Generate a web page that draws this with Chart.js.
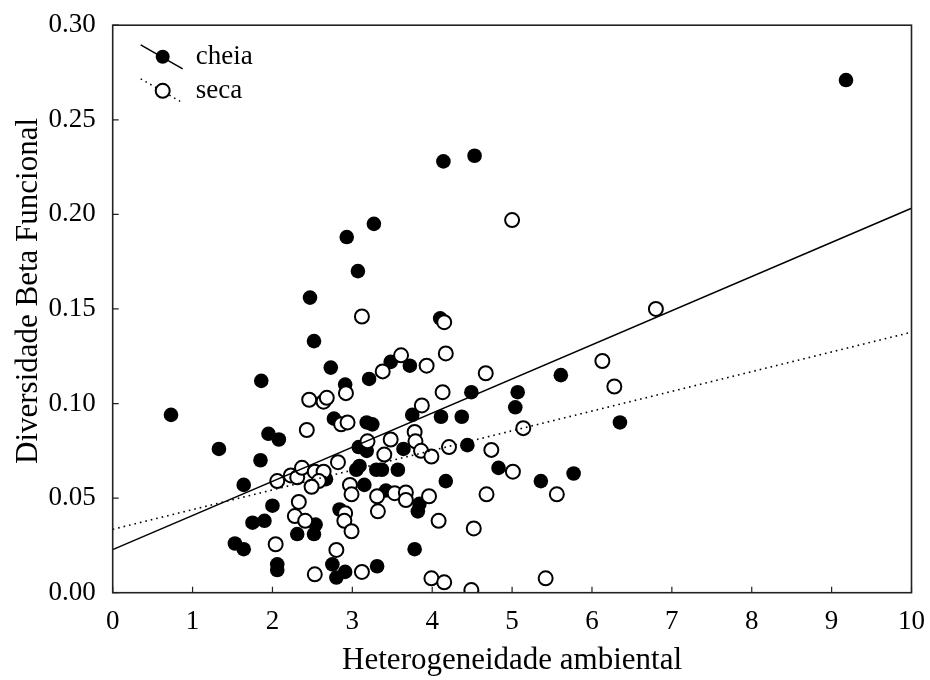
<!DOCTYPE html>
<html>
<head>
<meta charset="utf-8">
<script src="https://cdn.jsdelivr.net/npm/chart.js@4"></script>
<style>
  html, body { margin: 0; padding: 0; background: #fff; }
  #wrap { width: 930px; height: 680px; }
</style>
</head>
<body>
<div id="wrap"><canvas id="chart" width="930" height="680"></canvas></div>
<script>
// cheia (flood season) points
const cheiaX = [0.73, 1.33, 1.64, 1.86, 1.85, 1.95, 2.08, 2.00, 1.75, 1.90, 1.53, 1.64, 2.06, 2.06,
    2.52, 2.47, 2.73, 2.91, 2.77, 2.67, 2.54, 2.31, 2.52, 2.84, 2.75, 2.80, 2.91, 3.27, 2.93, 3.07,
    4.10, 3.48, 3.72, 3.21, 4.14, 4.53, 9.18, 3.18, 3.25, 3.75, 4.11, 4.37, 4.49, 3.08, 3.18, 3.64,
    4.44, 4.83, 3.09, 3.05, 3.30, 3.37, 3.57, 3.15, 3.42, 3.84, 3.82, 4.17, 3.78, 3.31, 5.07, 5.61,
    6.35, 5.04, 5.36, 5.77];
const cheiaY = [0.094, 0.076, 0.057, 0.112, 0.070, 0.084, 0.081, 0.046, 0.037, 0.038, 0.026, 0.023, 0.015, 0.012,
    0.133, 0.156, 0.119, 0.110, 0.092, 0.060, 0.036, 0.031, 0.031, 0.044, 0.015, 0.008, 0.011, 0.195, 0.188, 0.170,
    0.145, 0.122, 0.120, 0.113, 0.228, 0.231, 0.271, 0.090, 0.089, 0.094, 0.093, 0.093, 0.106, 0.077, 0.075, 0.076,
    0.078, 0.066, 0.067, 0.065, 0.065, 0.065, 0.065, 0.057, 0.054, 0.047, 0.043, 0.059, 0.023, 0.014, 0.106, 0.115,
    0.090, 0.098, 0.059, 0.063];

// seca (dry season) points
const secaX = [3.12, 4.15, 3.61, 3.38, 3.93, 4.17, 4.67, 5.00, 6.80, 2.92, 2.46, 2.64, 2.68, 2.86, 2.94,
    2.43, 3.87, 4.13, 3.78, 3.79, 3.48, 3.19, 3.40, 3.86, 3.99, 4.21, 4.74, 2.82, 2.06, 2.23, 2.31,
    2.37, 2.53, 2.64, 2.58, 2.49, 2.97, 2.99, 3.31, 3.53, 3.67, 3.67, 3.96, 3.32, 4.68, 4.08, 4.52,
    2.33, 2.28, 2.41, 2.91, 2.90, 2.99, 2.04, 2.80, 2.53, 3.12, 3.99, 4.15, 4.49, 6.13, 6.28, 5.14,
    5.01, 5.56, 5.42];
const secaY = [0.146, 0.143, 0.1255, 0.117, 0.120, 0.1265, 0.116, 0.197, 0.150, 0.1055, 0.102, 0.101, 0.103, 0.089, 0.090,
    0.086, 0.099, 0.106, 0.085, 0.080, 0.081, 0.080, 0.073, 0.075, 0.072, 0.077, 0.0755, 0.069, 0.059, 0.062, 0.061,
    0.066, 0.064, 0.064, 0.059, 0.056, 0.057, 0.052, 0.051, 0.0526, 0.053, 0.049, 0.051, 0.043, 0.052, 0.038, 0.034,
    0.048, 0.0405, 0.038, 0.042, 0.038, 0.0325, 0.0256, 0.0226, 0.0097, 0.011, 0.0076, 0.0055, 0.0014, 0.1225, 0.109, 0.087,
    0.064, 0.052, 0.0076];

// fitted regression lines (ends of the x range)
const fitX = [0, 10];
const cheiaFit = [0.0228, 0.2032];
const secaFit = [0.0335, 0.1377];

const xTicks = [0, 1, 2, 3, 4, 5, 6, 7, 8, 9, 10];
const yTicks = [0, 0.05, 0.10, 0.15, 0.20, 0.25, 0.30];

const serif = "'Liberation Serif', 'Times New Roman', serif";

const toPoints = (xs, ys) => xs.map((x, i) => ({ x: x, y: ys[i] }));

// box around the plot, inward tick marks, y title and the legend
const frame = {
    id: "frame",
    afterDatasetsDraw(chart) {
        const { ctx, chartArea: a, scales } = chart;
        ctx.save();
        ctx.strokeStyle = "#222";
        ctx.lineWidth = 1.6;
        ctx.strokeRect(a.left, a.top, a.right - a.left, a.bottom - a.top);

        ctx.lineWidth = 1.2;
        ctx.beginPath();
        scales.x.ticks.forEach((t, i) => {
            const px = scales.x.getPixelForTick(i);
            ctx.moveTo(px, a.bottom);
            ctx.lineTo(px, a.bottom - 6);
        });
        scales.y.ticks.forEach((t, i) => {
            const py = scales.y.getPixelForTick(i);
            ctx.moveTo(a.left, py);
            ctx.lineTo(a.left + 6, py);
        });
        ctx.stroke();

        // y axis title, sitting a little above the middle of the axis
        ctx.save();
        ctx.translate(29, (a.top + a.bottom) / 2 - 18);
        ctx.rotate(-Math.PI / 2);
        ctx.fillStyle = "#000";
        ctx.font = "31px " + serif;
        ctx.textAlign = "center";
        ctx.textBaseline = "middle";
        ctx.fillText("Diversidade Beta Funcional", 0, 0);
        ctx.restore();

        // legend
        const lx = a.left + 28;
        const rows = [
            { label: "cheia", dy: 31.6, filled: true },
            { label: "seca", dy: 65.6, filled: false },
        ];
        rows.forEach((r) => {
            const cy = a.top + r.dy;
            ctx.strokeStyle = "#000";
            ctx.lineWidth = 1.5;
            ctx.setLineDash(r.filled ? [] : [1.5, 4]);
            ctx.beginPath();
            ctx.moveTo(lx, cy - 12);
            ctx.lineTo(lx + 42, cy + 12);
            ctx.stroke();
            ctx.setLineDash([]);
            ctx.beginPath();
            ctx.arc(lx + 22, cy, 7, 0, Math.PI * 2);
            if (r.filled) {
                ctx.fillStyle = "#000";
                ctx.fill();
            } else {
                ctx.fillStyle = "#fff";
                ctx.fill();
                ctx.lineWidth = 2;
                ctx.stroke();
            }
            ctx.fillStyle = "#000";
            ctx.font = "27px " + serif;
            ctx.textAlign = "left";
            ctx.textBaseline = "middle";
            ctx.fillText(r.label, a.left + 83, cy);
        });
        ctx.restore();
    },
};

new Chart(document.getElementById("chart"), {
    type: "scatter",
    data: {
        datasets: [
            {
                label: "cheia (ajuste)",
                type: "line",
                data: toPoints(fitX, cheiaFit),
                borderColor: "#000",
                borderWidth: 1.5,
                pointRadius: 0,
                fill: false,
                order: 0,
            },
            {
                label: "seca (ajuste)",
                type: "line",
                data: toPoints(fitX, secaFit),
                borderColor: "#000",
                borderWidth: 1.6,
                borderDash: [1.6, 4],
                pointRadius: 0,
                fill: false,
                order: 1,
            },
            {
                label: "seca",
                data: toPoints(secaX, secaY),
                pointRadius: 7,
                pointBackgroundColor: "#fff",
                pointBorderColor: "#000",
                pointBorderWidth: 2,
                clip: 0,
                order: 2,
            },
            {
                label: "cheia",
                data: toPoints(cheiaX, cheiaY),
                pointRadius: 7.3,
                pointBackgroundColor: "#000",
                pointBorderColor: "#000",
                pointBorderWidth: 0,
                clip: 0,
                order: 3,
            },
        ],
    },
    options: {
        responsive: false,
        animation: false,
        events: [],
        layout: { padding: { top: 22.7, right: 17.3, left: 0, bottom: 0 } },
        plugins: {
            legend: { display: false },
            tooltip: { enabled: false },
        },
        scales: {
            x: {
                type: "linear",
                min: 0,
                max: 10,
                afterFit: (s) => { s.height = 87.3; },
                afterBuildTicks: (s) => { s.ticks = xTicks.map((v) => ({ value: v })); },
                grid: { display: false },
                border: { display: false },
                ticks: {
                    color: "#000",
                    padding: 5,
                    font: { family: serif, size: 27 },
                    callback: (v) => String(v),
                },
                title: {
                    display: true,
                    text: "Heterogeneidade ambiental",
                    color: "#000",
                    padding: { top: 0, bottom: 1 },
                    font: { family: serif, size: 31 },
                },
            },
            y: {
                type: "linear",
                min: 0,
                max: 0.30,
                afterFit: (s) => { s.width = 112.7; },
                afterBuildTicks: (s) => { s.ticks = yTicks.map((v) => ({ value: v })); },
                grid: { display: false },
                border: { display: false },
                ticks: {
                    color: "#000",
                    padding: 9,
                    font: { family: serif, size: 27 },
                    callback: (v) => Number(v).toFixed(2),
                },
            },
        },
    },
    plugins: [frame],
});
</script>
</body>
</html>
